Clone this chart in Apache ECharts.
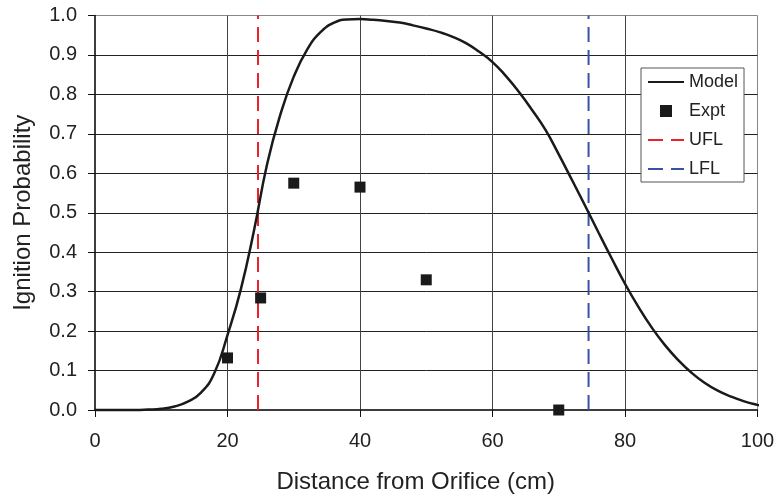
<!DOCTYPE html>
<html><head><meta charset="utf-8">
<script src="https://cdn.jsdelivr.net/npm/echarts@6/dist/echarts.min.js"></script>
<style>html,body{margin:0;padding:0;background:#fff}#c{width:779px;height:499px}</style>
</head><body><div id="c"></div>
<script>
const modelX = [0, 2, 4, 6, 8, 10, 12, 14, 16, 18, 20, 22, 24, 26, 28, 30, 32, 34, 36, 38, 40, 42, 44, 46, 48, 50, 52, 54, 56, 58, 60, 62, 64, 66, 68, 70, 72, 74, 76, 78, 80, 82, 84, 86, 88, 90, 92, 94, 96, 98, 100, 101.4];
const modelY = [0, 0, 0, 0, 0.001, 0.003, 0.009, 0.021, 0.044, 0.093, 0.19, 0.305, 0.455, 0.625, 0.75, 0.845, 0.913, 0.957, 0.981, 0.99, 0.991, 0.989, 0.986, 0.982, 0.975, 0.967, 0.958, 0.946, 0.930, 0.908, 0.882, 0.847, 0.806, 0.760, 0.710, 0.648, 0.583, 0.517, 0.450, 0.384, 0.320, 0.262, 0.210, 0.165, 0.127, 0.095, 0.069, 0.049, 0.034, 0.022, 0.013, 0.008];
const exptX = [20, 25, 30, 40, 50, 70];
const exptY = [0.132, 0.284, 0.575, 0.565, 0.33, 0.0];
const uflX = 24.6;
const lflX = 74.5;
const yTicks = [0, 1, 0.1];
const xTicks = [0, 100, 20];

const font = "'Liberation Sans', Arial, Helvetica, sans-serif";
const chart = echarts.init(document.getElementById('c'), null, {renderer: 'canvas'});
const hidden = {opacity: 0};
chart.setOption({
  animation: false,
  backgroundColor: '#fff',
  textStyle: {fontFamily: font},
  grid: {left: 95, top: 15.5, right: 21.5, bottom: 89, show: true, borderColor: '#888', borderWidth: 1, containLabel: false},
  legend: {
    orient: 'vertical', left: 641, top: 68,
    backgroundColor: '#fff', borderColor: '#555', borderWidth: 1,
    padding: [5, 6, 4, 6], itemGap: 11, itemWidth: 36, itemHeight: 12,
    textStyle: {fontFamily: font, fontSize: 18, color: '#222'},
    data: [
      {name: 'Model', itemStyle: hidden},
      {name: 'Expt', icon: 'path://M0,0L10,0L10,10L0,10Z'},
      {name: 'UFL', itemStyle: hidden},
      {name: 'LFL', itemStyle: hidden}
    ]
  },
  xAxis: {
    type: 'value', min: xTicks[0], max: xTicks[1], interval: xTicks[2],
    name: 'Distance from Orifice (cm)', nameLocation: 'middle', nameGap: 60,
    nameTextStyle: {fontFamily: font, fontSize: 24, color: '#222', padding: [0, 21, 0, 0]},
    axisLine: {show: true, onZero: false, lineStyle: {color: '#111', width: 1.5}},
    axisTick: {show: true, inside: false, length: 7, lineStyle: {color: '#111'}},
    axisLabel: {margin: 21, fontFamily: font, fontSize: 20, color: '#222'},
    splitLine: {show: true, showMinLine: false, showMaxLine: false, lineStyle: {color: '#444', width: 1}}
  },
  yAxis: {
    type: 'value', min: yTicks[0], max: yTicks[1], interval: yTicks[2],
    name: 'Ignition Probability', nameLocation: 'middle', nameGap: 60,
    nameTextStyle: {fontFamily: font, fontSize: 24, color: '#222'},
    axisLine: {show: true, onZero: false, lineStyle: {color: '#111', width: 1.5}},
    axisTick: {show: true, inside: false, length: 7, lineStyle: {color: '#111'}},
    axisLabel: {margin: 18, fontFamily: font, fontSize: 20, color: '#222', formatter: v => v.toFixed(1)},
    splitLine: {show: true, showMinLine: false, showMaxLine: false, lineStyle: {color: '#222', width: 1}}
  },
  series: [
    {name: 'Model', type: 'line', smooth: 0.5, symbol: 'none', clip: false,
     lineStyle: {color: '#1a1a1a', width: 2.5}, itemStyle: {color: '#1a1a1a'},
     data: modelX.map((x, i) => [x, modelY[i]]), z: 5},
    {name: 'Expt', type: 'scatter', symbol: 'rect', symbolSize: 11,
     itemStyle: {color: '#1a1a1a', opacity: 1}, data: exptX.map((x, i) => [x, exptY[i]]), z: 6},
    {name: 'UFL', type: 'line', symbol: 'none',
     lineStyle: {color: '#e8232b', width: 2, type: [15, 8]}, itemStyle: {color: '#e8232b'},
     data: [[uflX, 0], [uflX, 1]], z: 4},
    {name: 'LFL', type: 'line', symbol: 'none',
     lineStyle: {color: '#3552a5', width: 2, type: [15, 8]}, itemStyle: {color: '#3552a5'},
     data: [[lflX, 0], [lflX, 1]], z: 4}
  ]
});
</script></body></html>
